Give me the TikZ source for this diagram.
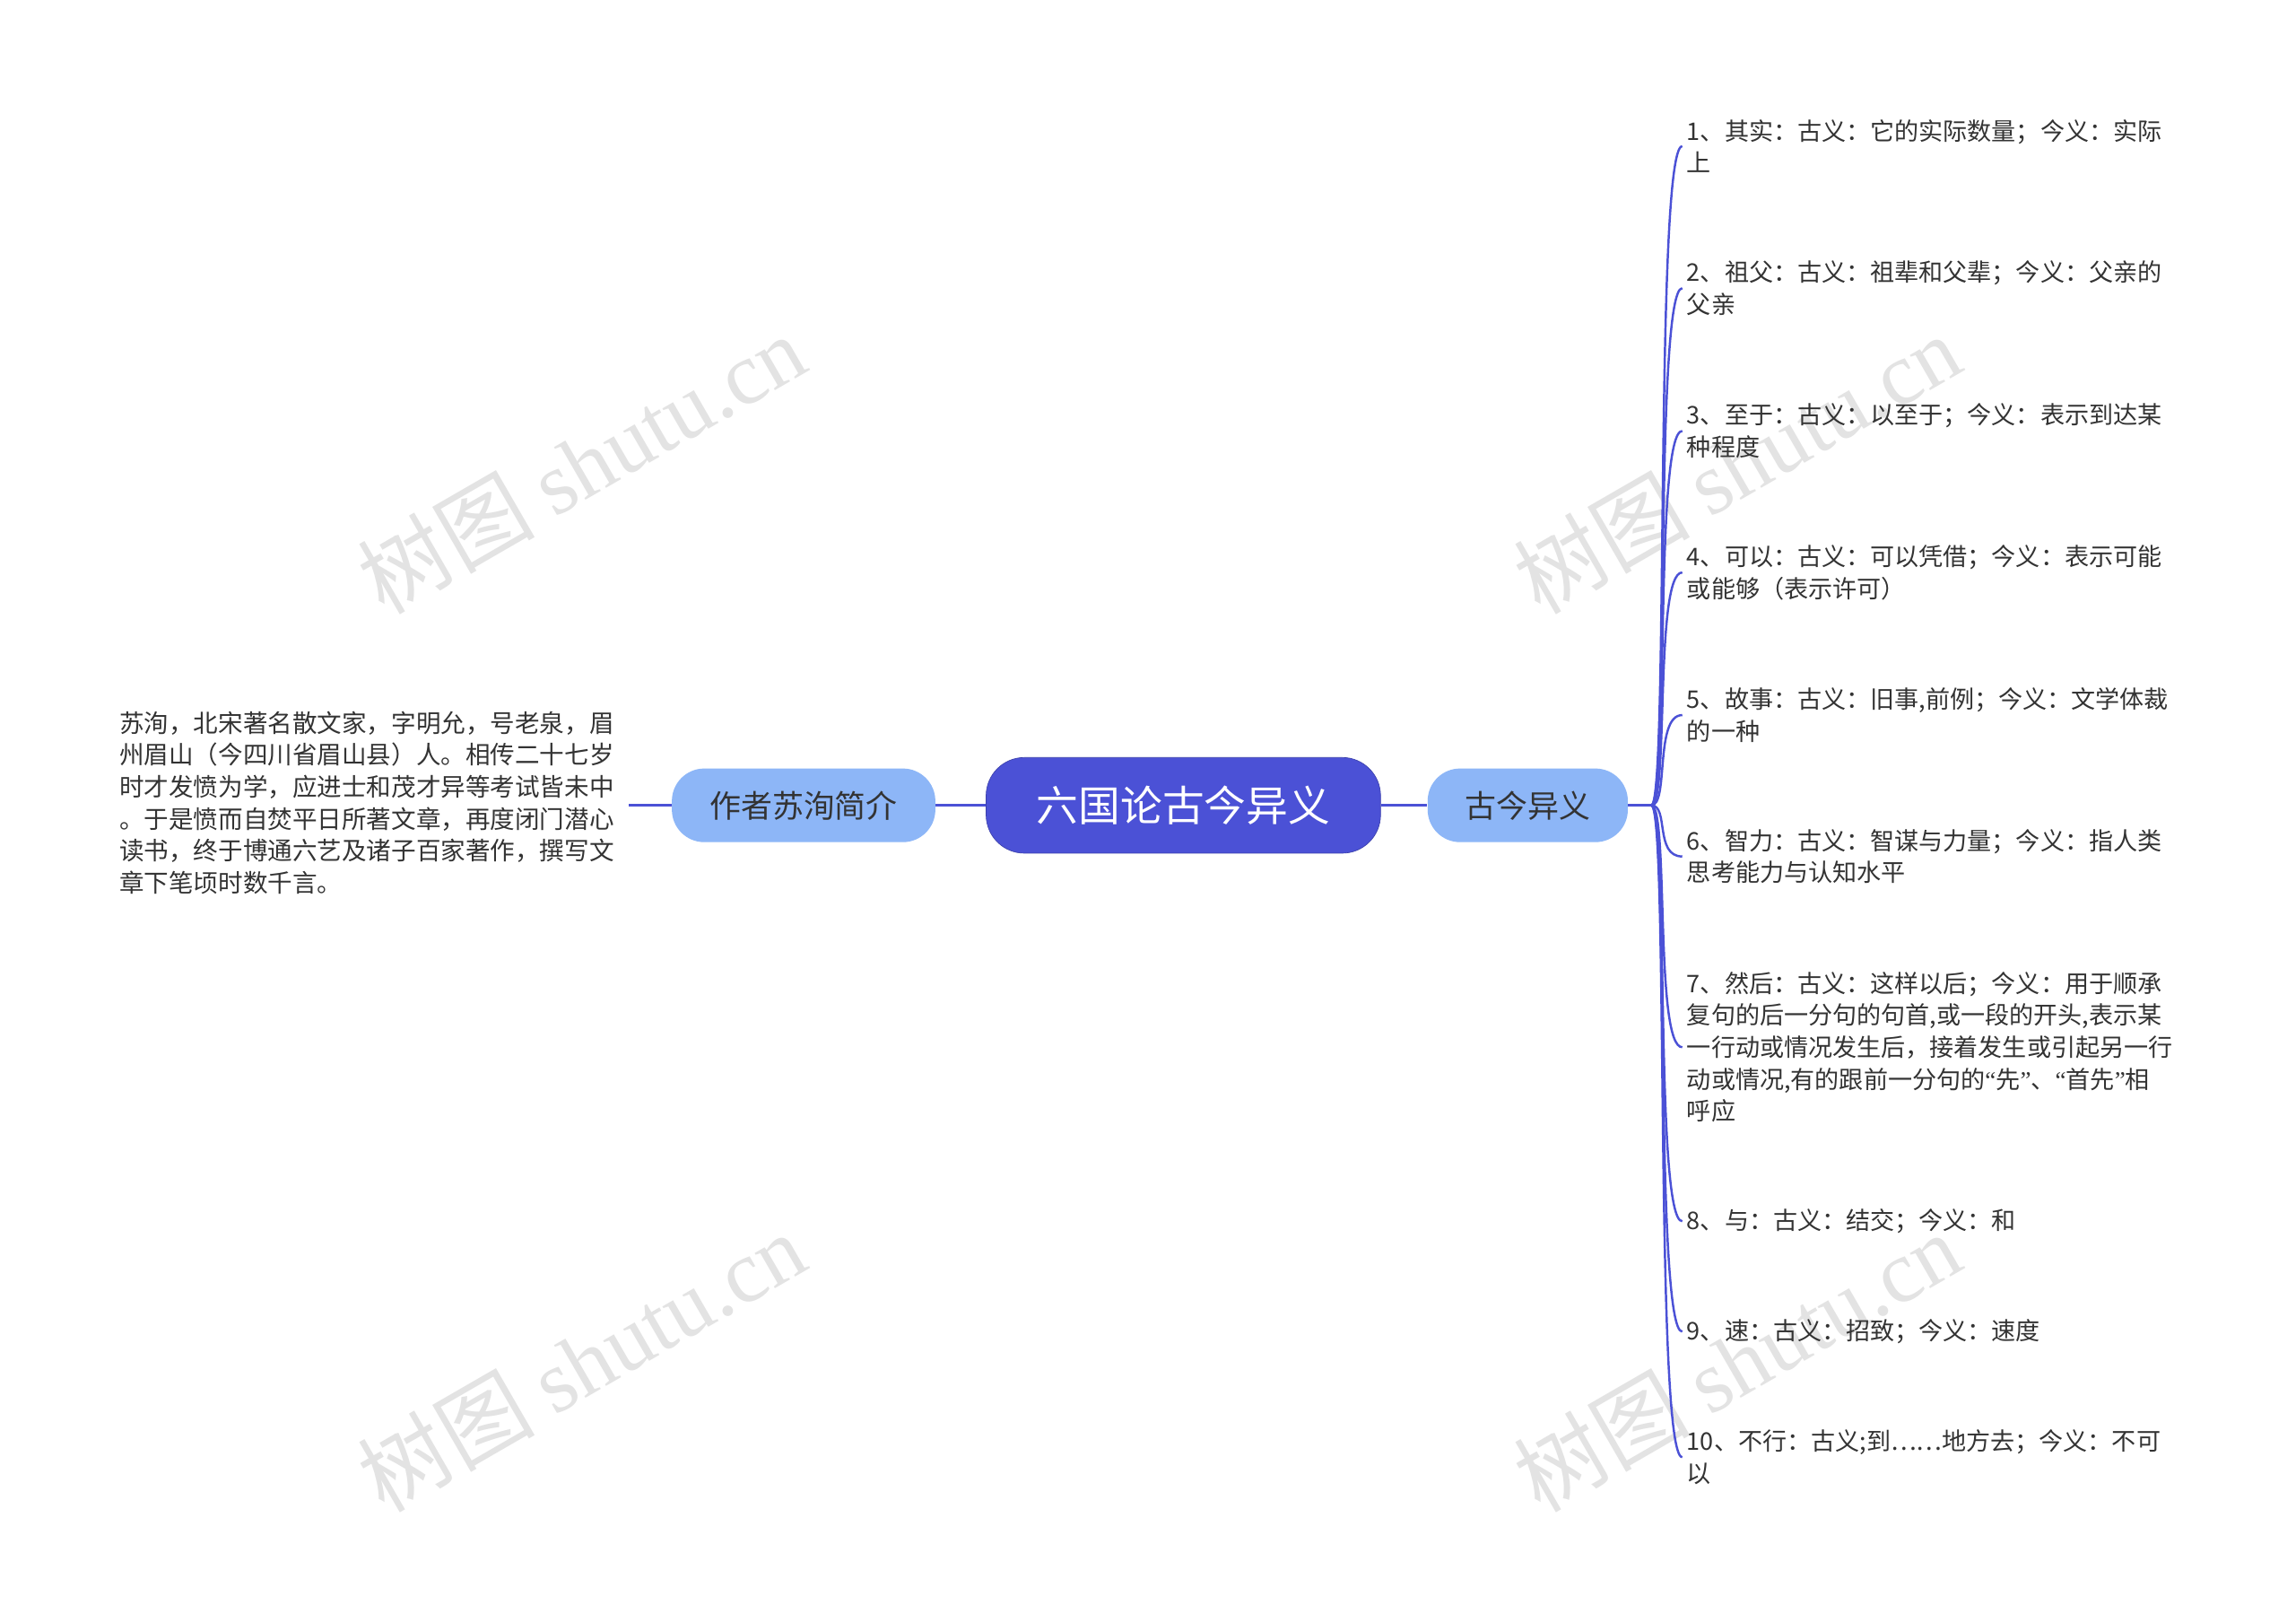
\documentclass[tikz,border=0pt]{standalone}
\usepackage{fontspec}
\usetikzlibrary{calc}
\setmainfont{Noto Sans CJK SC}
\newfontfamily\wmserif{Liberation Serif}
\definecolor{mainc}{HTML}{4B51D6}
\definecolor{subc}{HTML}{8DB6F7}
\definecolor{txt}{HTML}{333333}
\begin{document}
\begin{tikzpicture}[x=1pt,y=-1pt,
  conn/.style={draw=mainc,line width=1.8pt},
  leaf/.style={anchor=north west,inner xsep=3pt,inner ysep=0pt,text width=360pt,align=left,font=\fontsize{16.5}{21.7}\selectfont,text=txt},
  wm/.style={text=gray!22,font=\fontsize{60}{60}\selectfont,rotate=30}]
\useasboundingbox (0,0) rectangle (1560,1089.6);
\fill[white] (0,0) rectangle (1560,1089.6);
\node[wm] (w1) at (395,315) {树图 {\wmserif shutu.cn}};
\node[wm] (w2) at (1180,315) {树图 {\wmserif shutu.cn}};
\node[wm] (w3) at (395,925) {树图 {\wmserif shutu.cn}};
\node[wm] (w4) at (1180,925) {树图 {\wmserif shutu.cn}};
\node[fill=mainc,draw=mainc!80!black,rounded corners=26pt,minimum width=268pt,minimum height=65pt,text=white,font=\fontsize{28.5}{30}\selectfont] (c) at (804,547) {六国论古今异义};
\node[fill=subc,rounded corners=22pt,minimum width=179pt,minimum height=50pt,text=txt,font=\fontsize{21.3}{24}\selectfont] (a) at (546,547) {作者苏洵简介};
\node[fill=subc,rounded corners=22pt,minimum width=136pt,minimum height=50pt,text=txt,font=\fontsize{21.3}{24}\selectfont] (b) at (1038,547) {古今异义};
\node[anchor=north west,inner sep=0pt,text width=360pt,align=left,font=\fontsize{16.8}{21.7}\selectfont,text=txt] (t) at (81,483) {苏洵，北宋著名散文家，字明允，号老泉，眉\\州眉山（今四川省眉山县）人。相传二十七岁\\时才发愤为学，应进士和茂才异等考试皆未中\\。于是愤而自焚平日所著文章，再度闭门潜心\\读书，终于博通六艺及诸子百家著作，撰写文\\章下笔顷时数千言。};
\coordinate (tl) at (427,547);
\coordinate (rj) at (1122,547);
\draw[conn] (c) -- (a);
\draw[conn] (a) -- (tl);
\draw[conn] (c) -- (b);
\draw[conn] (b) -- (rj);
\node[leaf] (l1) at (1143,81) {1、其实：古义：它的实际数量；今义：实际\\上};
\node[leaf] (l2) at (1143,177) {2、祖父：古义：祖辈和父辈；今义：父亲的\\父亲};
\node[leaf] (l3) at (1143,274) {3、至于：古义：以至于；今义：表示到达某\\种程度};
\node[leaf] (l4) at (1143,370) {4、可以：古义：可以凭借；今义：表示可能\\或能够（表示许可）};
\node[leaf] (l5) at (1143,467) {5、故事：古义：旧事,前例；今义：文学体裁\\的一种};
\node[leaf] (l6) at (1143,563) {6、智力：古义：智谋与力量；今义：指人类\\思考能力与认知水平};
\node[leaf] (l7) at (1143,660) {7、然后：古义：这样以后；今义：用于顺承\\复句的后一分句的句首,或一段的开头,表示某\\一行动或情况发生后，接着发生或引起另一行\\动或情况,有的跟前一分句的{\wmserif “}先{\wmserif ”}、{\wmserif “}首先{\wmserif ”}相\\呼应};
\node[leaf] (l8) at (1143,821) {8、与：古义：结交；今义：和};
\node[leaf] (l9) at (1143,896) {9、速：古义：招致；今义：速度};
\node[leaf] (l10) at (1143,971) {10、不行：古义;到……地方去；今义：不可\\以};
\foreach \i in {1,...,10}{
  \draw[draw=mainc,line width=1.5pt] (rj) .. controls ($(rj)+(12,0)$) and ($(rj|-l\i.west)+(2,0)$) .. (l\i.west);
}
\end{tikzpicture}
\end{document}
